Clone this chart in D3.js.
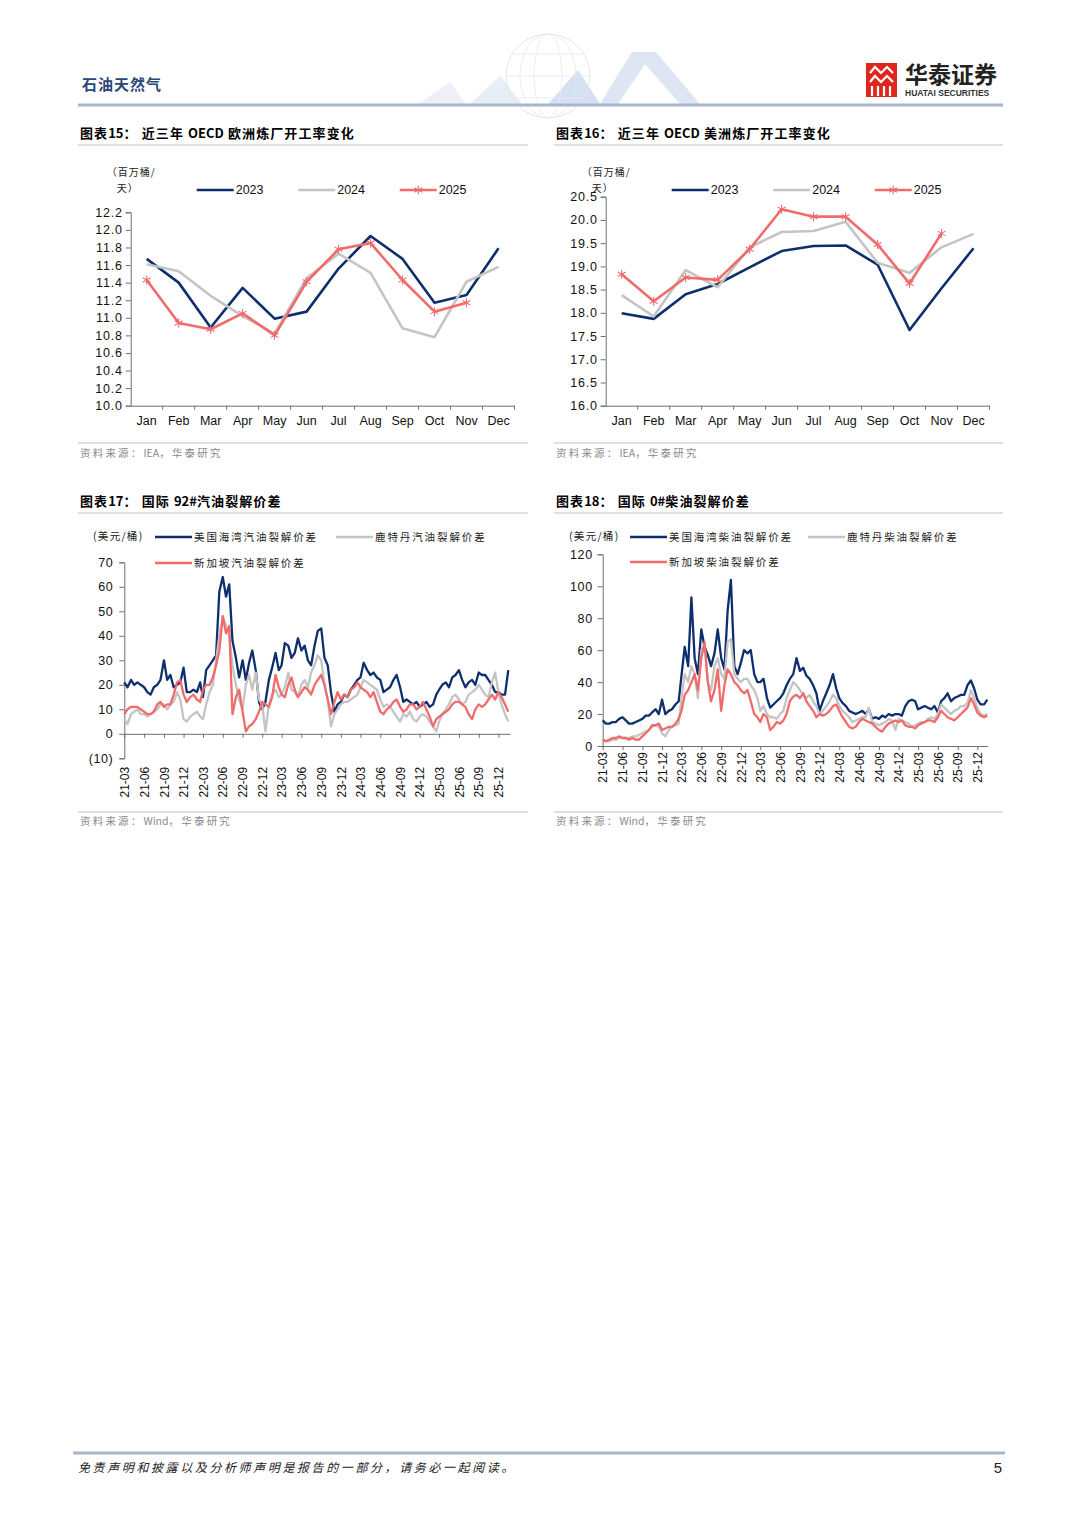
<!DOCTYPE html>
<html>
<head>
<meta charset="utf-8">
<script src="https://cdn.jsdelivr.net/npm/d3@7"></script>
<style>
  body { margin: 0; background: #fff; }
  svg text { font-family: "Liberation Sans", Arial, sans-serif; }
  svg text.cn { font-family: "Noto Sans CJK SC", sans-serif; }
</style>
</head>
<body>
<svg id="page" width="1080" height="1527"></svg>
<script>
// ---- colours
const NAVY = "#0d2f6e", GREY = "#c4c4c4", RED = "#f26b6b", AXIS = "#6e6e6e";

// ---- chart 15 / 16 : monthly refinery runs (mb/d)
const monthLabels = ["Jan","Feb","Mar","Apr","May","Jun","Jul","Aug","Sep","Oct","Nov","Dec"];
const eurTicks = [10.0,10.2,10.4,10.6,10.8,11.0,11.2,11.4,11.6,11.8,12.0,12.2];
const eur2023 = [11.67,11.40,10.89,11.34,10.99,11.07,11.56,11.93,11.67,11.17,11.26,11.79];
const eur2024 = [11.61,11.53,11.25,11.02,10.82,11.45,11.73,11.51,10.88,10.78,11.41,11.58];
const eur2025 = [11.43,10.94,10.87,11.05,10.80,11.41,11.78,11.85,11.43,11.07,11.17];

const amTicks = [16.0,16.5,17.0,17.5,18.0,18.5,19.0,19.5,20.0,20.5];
const am2023 = [17.99,17.87,18.40,18.62,18.98,19.33,19.44,19.45,19.04,17.63,18.53,19.39];
const am2024 = [18.38,17.92,18.92,18.55,19.41,19.74,19.76,19.96,19.08,18.86,19.41,19.70];
const am2025 = [18.83,18.25,18.76,18.71,19.37,20.23,20.07,20.07,19.47,18.63,19.71];

// ---- chart 17 / 18 : cracks, two readings per month, 2021-03 .. 2026-01 (USD/bbl)
const gasTicks = [-10,0,10,20,30,40,50,60,70];
const gulfGas = [
  21,19, 22,20, 21,20, 19,17, 16,19, 20,22, 30,22, 24,19, 20,21, 27,17,
  17,18, 17,21, 15,26, 28,30, 32,58, 64,56, 61,38, 31,23, 30,22, 29,34, 26,13, 10,13,
  22,27, 33,26, 28,37, 36,31, 33,39, 34,36, 30,28, 36,42, 43,31, 28,17, 9,12, 13,16,
  15,18, 20,22, 23,29, 26,24, 25,23, 22,17, 18,19, 22,24, 19,13, 14,13, 12,13, 11,12,
  13,11, 12,16, 18,20, 21,19, 23,24, 26,22, 19,21, 22,20, 25,24, 24,22, 20,17, 17,16,
  16,26];
const rotGas = [
  6,4, 8,9, 10,8, 8,7, 8,9, 10,12, 12,10, 12,13, 17,14, 6,5,
  7,8, 9,7, 6,12, 17,20, 30,40, 48,44, 40,28, 20,14, 10,20, 24,18, 25,14, 12,1,
  12,16, 18,15, 16,19, 25,18, 17,15, 20,22, 19,25, 28,32, 30,20, 14,3, 8,10, 12,13,
  13,14, 15,16, 19,22, 21,20, 19,18, 14,11, 12,11, 9,7, 5,8, 7,9, 6,5, 7,8,
  7,5, 3,1, 5,8, 10,12, 15,16, 14,12, 13,16, 17,18, 20,18, 16,15, 21,25, 17,12,
  8,5];
const sinGas = [
  8,10, 11,11, 11,10, 9,8, 8,9, 12,13, 11,12, 12,16, 21,22, 16,13,
  15,16, 14,13, 18,20, 20,23, 28,34, 48,41, 44,8, 15,18, 9,1, 3,4, 6,9, 13,12,
  11,15, 24,19, 16,15, 20,23, 18,15, 17,19, 18,16, 20,22, 24,20, 14,8, 13,17, 14,16,
  15,18, 19,21, 19,18, 17,15, 17,13, 9,8, 10,11, 13,14, 11,9, 10,12, 12,10, 11,13,
  10,7, 3,6, 7,8, 9,10, 12,13, 13,12, 11,8, 6,10, 12,11, 12,14, 16,14, 17,15,
  12,9];

const dslTicks = [0,20,40,60,80,100,120];
const gulfDsl = [
  16,14, 14,15, 15,17, 18,16, 14,14, 15,16, 17,19, 19,21, 23,20, 29,20,
  22,23, 26,28, 44,62, 50,93, 55,45, 73,62, 57,50, 58,73, 55,48, 85,104, 50,45, 52,60,
  58,60, 45,40, 40,42, 30,24, 26,28, 30,33, 38,42, 45,55, 47,49, 44,42, 38,33, 22,28,
  33,38, 45,36, 30,27, 25,22, 21,20, 21,22, 20,23, 17,18, 17,19, 18,20, 19,20, 20,19,
  25,28, 29,28, 23,24, 25,24, 23,25, 21,28, 30,33, 28,30, 31,32, 32,38, 41,36, 29,26,
  26,29];
const rotDsl = [
  4,3, 3,4, 4,5, 5,5, 5,6, 6,7, 8,9, 10,12, 13,12, 8,6,
  10,12, 13,14, 30,45, 40,50, 45,30, 60,63, 40,35, 50,55, 45,42, 65,67, 45,42, 40,42,
  42,38, 35,30, 22,25, 20,18, 18,17, 20,22, 30,35, 40,38, 35,32, 30,32, 28,25, 20,22,
  25,28, 32,30, 25,22, 20,18, 15,16, 17,18, 18,24, 15,14, 13,14, 15,17, 16,10, 17,16,
  15,14, 12,13, 14,15, 15,17, 18,17, 20,26, 24,22, 20,22, 23,25, 25,27, 35,30, 24,20,
  19,20];
const sinDsl = [
  4,3, 4,5, 5,6, 5,5, 4,5, 4,4, 6,8, 10,13, 13,14, 10,11,
  12,12, 14,17, 22,32, 35,40, 45,35, 55,65, 40,28, 35,48, 22,38, 48,45, 40,38, 35,33,
  35,28, 20,18, 15,20, 18,10, 12,15, 14,16, 20,28, 31,32, 30,33, 28,25, 22,18, 20,19,
  20,22, 25,26, 22,18, 15,12, 11,12, 15,17, 16,15, 14,12, 10,9, 12,14, 15,16, 15,16,
  13,12, 12,11, 13,14, 15,16, 16,15, 18,22, 20,18, 17,16, 18,20, 22,24, 30,26, 21,19,
  18,19];

// calendar for the crack series (1st and 16th of each month) and the quarterly ticks
const halfMonths = d3.timeMonth.range(new Date(2021, 2, 1), new Date(2026, 1, 1))
  .flatMap(m => [m, d3.timeDay.offset(m, 15)]);
const quarterTicks = d3.timeMonth.range(new Date(2021, 2, 1), new Date(2026, 0, 1), 3);

const svg = d3.select("#page");

// spaced-out CJK, tight Latin runs
function fillRuns(t, s, ls) {
  s.split(/([A-Za-z0-9#.]+)/).filter(p => p).forEach(p => {
    t.append("tspan").attr("letter-spacing", /^[A-Za-z0-9#.]+$/.test(p) ? 0 : ls).text(p);
  });
}

function addText(x, y, s, o = {}) {
  const t = svg.append("text")
    .attr("x", x).attr("y", y)
    .attr("class", o.cn ? "cn" : null)
    .attr("font-size", o.size || 12)
    .attr("font-weight", o.bold ? 700 : null)
    .attr("font-style", o.italic ? "italic" : null)
    .attr("fill", o.fill || "#000")
    .attr("text-anchor", o.anchor || "start")
    .attr("dominant-baseline", "middle");
  if (o.ls) fillRuns(t, s, o.ls); else t.text(s);
  return t;
}
function hline(x1, x2, y, color, w) {
  svg.append("line").attr("x1", x1).attr("x2", x2).attr("y1", y).attr("y2", y)
    .attr("stroke", color).attr("stroke-width", w);
}

// ---------------- page header
const deco = svg.append("g").attr("opacity", 0.55);
deco.append("polygon").attr("points", "418,104 450,82 466,104").attr("fill", "#dfe7f2");
deco.append("polygon").attr("points", "470,104 500,76 522,104").attr("fill", "#d6e1ef");
deco.append("polygon").attr("points", "600,104 632,52 656,52 700,104 680,104 645,64 618,104").attr("fill", "#c3d2e8");
deco.append("polygon").attr("points", "548,104 578,70 600,104").attr("fill", "#b3c9e6");
deco.append("circle").attr("cx", 548).attr("cy", 76).attr("r", 42)
  .attr("fill", "none").attr("stroke", "#c9d3e0").attr("stroke-width", 1);
[14, 28].forEach(rx => deco.append("ellipse").attr("cx", 548).attr("cy", 76).attr("rx", rx).attr("ry", 42)
  .attr("fill", "none").attr("stroke", "#d0d9e5").attr("stroke-width", 0.8));
[-22, 0, 22].forEach(dy => deco.append("line").attr("x1", 548 - Math.sqrt(42 * 42 - dy * dy)).attr("x2", 548 + Math.sqrt(42 * 42 - dy * dy))
  .attr("y1", 76 + dy).attr("y2", 76 + dy).attr("stroke", "#d0d9e5").attr("stroke-width", 0.8));

addText(82, 86, "石油天然气", { cn: true, size: 15, bold: true, fill: "#2b4678", ls: 1 });
hline(78, 1003, 105, "#a7b6cc", 3);

// logo
svg.append("rect").attr("x", 866).attr("y", 63).attr("width", 31).attr("height", 34).attr("fill", "#e0261c");
const logo = svg.append("g").attr("stroke", "#fff").attr("stroke-width", 2.2).attr("fill", "none");
logo.append("path").attr("d", "M870,73 L875,67 L881,73 L887,67 L893,73");
logo.append("path").attr("d", "M870,82 L875,76 L881,82 L887,76 L893,82");
logo.append("path").attr("d", "M872,96 V86 M878,96 V86 M884,96 V86 M890,96 V86");
addText(905, 77, "华泰证券", { cn: true, size: 23, bold: true, fill: "#222" });
addText(905, 94, "HUATAI SECURITIES", { size: 8.5, bold: true, fill: "#333" });

// ---------------- section titles and sources
const titleLine = "#b8c3d4";
function section(x, yTitle, yLine, w, num, title) {
  addText(x, yTitle, "图表" + num + "：  " + title, { cn: true, size: 13, bold: true, ls: 1.1 });
  hline(x - 2, x - 2 + w, yLine, titleLine, 1.2);
}
function source(x, yLine, yText, w, s) {
  hline(x - 2, x - 2 + w, yLine, titleLine, 1.2);
  addText(x, yText, s, { cn: true, size: 10.5, fill: "#8a8a8a", ls: 2.2 });
}
section(80, 134, 145, 450, "15", "近三年 OECD 欧洲炼厂开工率变化");
section(556, 134, 145, 449, "16", "近三年 OECD 美洲炼厂开工率变化");
source(80, 443, 454, 450, "资料来源：IEA，华泰研究");
source(556, 443, 454, 449, "资料来源：IEA，华泰研究");
section(80, 502, 513, 450, "17", "国际 92#汽油裂解价差");
section(556, 502, 513, 449, "18", "国际 0#柴油裂解价差");
source(80, 812, 822, 450, "资料来源：Wind，华泰研究");
source(556, 812, 822, 449, "资料来源：Wind，华泰研究");

// ---------------- footer
hline(73, 1005, 1453, "#a7b6cc", 3);
addText(78, 1469, "免责声明和披露以及分析师声明是报告的一部分，请务必一起阅读。", { cn: true, size: 12, italic: true, fill: "#222", ls: 2.6 });
addText(1002, 1469, "5", { size: 15, anchor: "end", fill: "#222" });

// asterisk marker path
function starPath(r) {
  const a = r * 0.866, b = r * 0.5;
  return `M0,${-r}L0,${r}M${-a},${-b}L${a},${b}M${-a},${b}L${a},${-b}`;
}

function styleAxis(g, size) {
  g.select(".domain").attr("stroke", AXIS).attr("stroke-width", 1);
  g.selectAll(".tick line").attr("stroke", AXIS);
  g.selectAll(".tick text").attr("fill", "#111").attr("font-size", size || 12)
    .attr("font-family", "'Liberation Sans', Arial, sans-serif");
}

// ---------------- monthly charts (15, 16)
function monthlyChart(c) {
  const x = d3.scaleBand().domain(monthLabels).range([c.x0, c.x1]);
  const y = d3.scaleLinear().domain(c.domain).range([c.yBot, c.yTop]);
  const cx = (d, i) => x(monthLabels[i]) + x.bandwidth() / 2;

  svg.append("g").attr("transform", `translate(${c.x0},0)`)
    .call(d3.axisLeft(y).tickValues(c.ticks).tickFormat(d3.format(".1f")).tickSize(5).tickPadding(3))
    .call(g => styleAxis(g, 12.5))
    .selectAll(".tick text").attr("letter-spacing", 0.8);

  const gx = svg.append("g").attr("transform", `translate(0,${c.yBot})`)
    .call(d3.axisBottom(x).tickSize(0).tickPadding(10).tickSizeOuter(0))
    .call(g => styleAxis(g, 12.5));
  // category boundary ticks
  gx.selectAll("line.bound").data(monthLabels.slice(1).concat(["end"]))
    .join("line").attr("class", "bound")
    .attr("x1", d => d === "end" ? c.x1 : x(d)).attr("x2", d => d === "end" ? c.x1 : x(d))
    .attr("y1", 0).attr("y2", 4).attr("stroke", AXIS);

  const line = d3.line().x(cx).y(d => y(d));
  const series = [
    { vals: c.s23, color: NAVY, name: "2023" },
    { vals: c.s24, color: GREY, name: "2024" },
    { vals: c.s25, color: RED, name: "2025", star: true }
  ];
  series.forEach(s => {
    svg.append("path").datum(s.vals).attr("d", line)
      .attr("fill", "none").attr("stroke", s.color).attr("stroke-width", 2.6)
      .attr("stroke-linejoin", "round");
    if (s.star) {
      svg.append("g").selectAll("path").data(s.vals).join("path")
        .attr("transform", (d, i) => `translate(${cx(d, i)},${y(d)})`)
        .attr("d", starPath(4.5)).attr("stroke", s.color).attr("stroke-width", 1.1).attr("fill", "none");
    }
  });

  // unit label
  addText(c.x0 - 24, 173, "（百万桶/", { cn: true, size: 10, fill: "#222", ls: 1 });
  addText(c.x0 - 14, 189, "天）", { cn: true, size: 10, fill: "#222", ls: 1 });

  // legend
  series.forEach((s, i) => {
    const lx = c.x0 + 66 + i * 101.5;
    svg.append("line").attr("x1", lx).attr("x2", lx + 37).attr("y1", 190).attr("y2", 190)
      .attr("stroke", s.color).attr("stroke-width", 2.6);
    if (s.star) {
      svg.append("path").attr("transform", `translate(${lx + 18.5},190)`).attr("d", starPath(4.5))
        .attr("stroke", s.color).attr("stroke-width", 1.1).attr("fill", "none");
    }
    addText(lx + 39, 190.5, s.name, { size: 12.5, fill: "#111" });
  });
}

monthlyChart({ x0: 130.7, x1: 514.5, yTop: 212.3, yBot: 405.7, domain: [10, 12.2], ticks: eurTicks,
  s23: eur2023, s24: eur2024, s25: eur2025 });
monthlyChart({ x0: 605.7, x1: 989.5, yTop: 196.7, yBot: 405.7, domain: [16, 20.5], ticks: amTicks,
  s23: am2023, s24: am2024, s25: am2025 });

// ---------------- crack charts (17, 18)
function crackChart(c) {
  const x = d3.scaleTime().domain([new Date(2021, 2, 1), c.end]).range([c.x0, c.x1]);
  const y = d3.scaleLinear().domain(c.domain).range([c.yBot, c.yTop]);

  svg.append("g").attr("transform", `translate(${c.x0},0)`)
    .call(d3.axisLeft(y).tickValues(c.ticks).tickFormat(v => v < 0 ? `(${-v})` : v).tickSize(5).tickPadding(c.pad))
    .call(g => styleAxis(g, 12.5))
    .selectAll(".tick text").attr("letter-spacing", 0.6);

  const gx = svg.append("g").attr("transform", `translate(0,${y(0)})`)
    .call(d3.axisBottom(x).tickValues(quarterTicks).tickFormat(d3.timeFormat("%y-%m")).tickSize(4).tickSizeOuter(0))
    .call(g => styleAxis(g, 12));
  gx.selectAll(".tick text")
    .attr("transform", `translate(0,${c.labelOff}) rotate(-90)`)
    .attr("text-anchor", "end").attr("x", 0).attr("y", 0).attr("dy", "0.35em");

  const line = d3.line().x((d, i) => x(halfMonths[i])).y(d => y(d));
  c.series.forEach(s => {
    svg.append("path").datum(s.vals).attr("d", line)
      .attr("fill", "none").attr("stroke", s.color).attr("stroke-width", 2.3)
      .attr("stroke-linejoin", "round");
  });

  // legend
  addText(c.unitX, 537, "(美元/桶)", { cn: true, size: 10.5, fill: "#222", ls: 1.3 });
  c.series.forEach(s => {
    svg.append("line").attr("x1", s.lx).attr("x2", s.lx + 37).attr("y1", s.ly).attr("y2", s.ly)
      .attr("stroke", s.color).attr("stroke-width", 2.6);
    addText(s.lx + 39, s.ly + 0.5, s.name, { cn: true, size: 10.5, fill: "#222", ls: 1.9 });
  });
}

crackChart({
  x0: 124.3, x1: 510, end: new Date(2026, 0, 24), yTop: 562.3, yBot: 758.3,
  domain: [-10, 70], ticks: gasTicks, pad: 6, labelOff: 33, unitX: 93,
  series: [
    { vals: gulfGas, color: NAVY, name: "美国海湾汽油裂解价差", lx: 155, ly: 537 },
    { vals: rotGas, color: GREY, name: "鹿特丹汽油裂解价差", lx: 336, ly: 537 },
    { vals: sinGas, color: RED, name: "新加坡汽油裂解价差", lx: 155, ly: 563 }
  ]
});
crackChart({
  x0: 602.7, x1: 987.3, end: new Date(2026, 0, 16), yTop: 554.3, yBot: 746,
  domain: [0, 120], ticks: dslTicks, pad: 5, labelOff: 6, unitX: 569,
  series: [
    { vals: gulfDsl, color: NAVY, name: "美国海湾柴油裂解价差", lx: 630, ly: 537 },
    { vals: rotDsl, color: GREY, name: "鹿特丹柴油裂解价差", lx: 808, ly: 537 },
    { vals: sinDsl, color: RED, name: "新加坡柴油裂解价差", lx: 630, ly: 562 }
  ]
});
</script>
</body>
</html>
